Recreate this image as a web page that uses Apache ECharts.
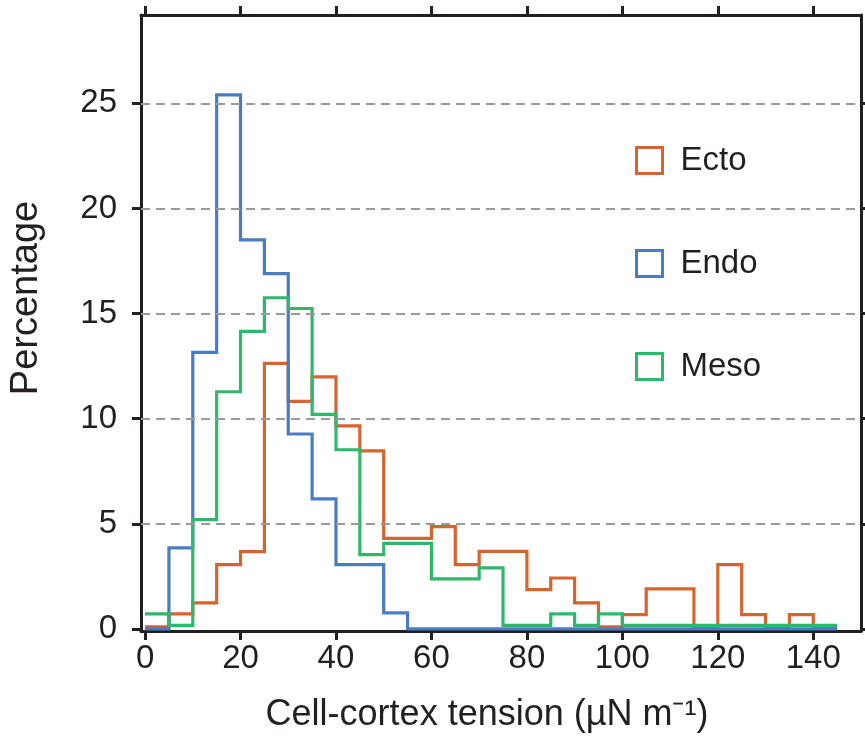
<!DOCTYPE html>
<html>
<head>
<meta charset="utf-8">
<script src="https://cdn.jsdelivr.net/npm/echarts@6/dist/echarts.min.js"></script>
<style>
  html, body { margin: 0; padding: 0; background: #fff; }
  #chart { width: 865px; height: 738px; }
</style>
</head>
<body>
<div id="chart"></div>
<script>
// Histogram bin edges (µN m⁻¹), 5-unit bins from 0 to 145
const binEdges = [0,5,10,15,20,25,30,35,40,45,50,55,60,65,70,75,80,85,90,95,100,105,110,115,120,125,130,135,140,145];

// Percentage of cells per bin
const ecto = [0.1,0.71,1.24,3.06,3.68,12.63,10.82,11.99,9.66,8.47,4.31,4.31,4.86,3.06,3.69,3.69,1.87,2.42,1.24,0.1,0.68,1.9,1.9,0.1,3.06,0.68,0.1,0.68,0.1];
const endo = [0,3.85,13.15,25.4,18.5,16.9,9.27,6.18,3.06,3.06,0.76,0,0,0,0,0,0,0,0,0,0,0,0,0,0,0,0,0,0];
const meso = [0.71,0.17,5.2,11.28,14.15,15.75,15.24,10.2,8.52,3.53,4.07,4.07,2.38,2.38,2.9,0.17,0.17,0.71,0.17,0.71,0.17,0.17,0.17,0.17,0.17,0.17,0.17,0.17,0.17];

const seriesNames = ['Ecto', 'Endo', 'Meso'];
const seriesColors = ['#d5642f', '#4a7cc4', '#2fb86b'];

// Tick values
const xTicks = [0,20,40,60,80,100,120,140];
const yTicks = [0,5,10,15,20,25];
const yGridValues = [5,10,15,20,25];

// Outline of a histogram: each bin's left edge with its value, closed by the last right edge
function stepPoints(values) {
  const pts = values.map((v, i) => [binEdges[i], v]);
  pts.push([binEdges[binEdges.length - 1], values[values.length - 1]]);
  return pts;
}

const ink = '#231f20';
const font = '"Liberation Sans", Arial, Helvetica, sans-serif';

const frameLine = { show: true, onZero: false, lineStyle: { color: ink, width: 3 } };

const chart = echarts.init(document.getElementById('chart'), null, { renderer: 'canvas' });

const option = {
  animation: false,
  backgroundColor: '#fff',
  grid: { left: 137.7, right: 4, top: 15, bottom: 106, containLabel: false },
  legend: {
    orient: 'vertical',
    left: 635,
    top: 144,
    padding: 0,
    itemWidth: 26,
    itemHeight: 26,
    itemGap: 70,
    icon: 'rect',
    selectedMode: false,
    textStyle: { fontFamily: font, fontSize: 33, color: ink, padding: [0, 0, 0, 13] },
    data: seriesNames.map((n, i) => ({
      name: n,
      itemStyle: { color: '#fff', borderColor: seriesColors[i], borderWidth: 3 }
    }))
  },
  xAxis: [
    {
      type: 'value', position: 'bottom', min: -0.85, max: 150,
      axisLine: frameLine,
      axisTick: { show: true, inside: false, length: 9, customValues: xTicks, lineStyle: { color: ink, width: 3 } },
      axisLabel: { customValues: xTicks, margin: 11, fontFamily: font, fontSize: 33, color: ink },
      splitLine: { show: false },
      name: 'Cell-cortex tension (µN m⁻¹)',
      nameLocation: 'middle',
      nameGap: 66,
      nameTextStyle: { fontFamily: font, fontSize: 36, color: ink, padding: [0, 28, 0, 0] }
    },
    {
      type: 'value', position: 'top', min: -0.85, max: 150,
      axisLine: frameLine,
      axisTick: { show: true, inside: false, length: 9, customValues: xTicks, lineStyle: { color: ink, width: 3 } },
      axisLabel: { show: false },
      splitLine: { show: false }
    }
  ],
  yAxis: [
    {
      type: 'value', position: 'left', min: -0.1, max: 29.2,
      axisLine: frameLine,
      axisTick: { show: true, inside: false, length: 9, customValues: yTicks, lineStyle: { color: ink, width: 3 } },
      axisLabel: { customValues: yTicks, margin: 24, fontFamily: font, fontSize: 33, color: ink },
      splitLine: { show: false },
      name: 'Percentage',
      nameLocation: 'middle',
      nameGap: 95,
      nameTextStyle: { fontFamily: font, fontSize: 38, color: ink, padding: [0, 0, 0, 50] }
    },
    {
      type: 'value', position: 'right', min: -0.1, max: 29.2,
      axisLine: frameLine,
      axisTick: { show: true, inside: false, length: 5, customValues: yTicks, lineStyle: { color: ink, width: 3 } },
      axisLabel: { show: false },
      splitLine: { show: false }
    }
  ],
  series: [
    {
      // horizontal reference lines at the labelled percentages
      type: 'line', xAxisIndex: 0, yAxisIndex: 0, data: [], silent: true, z: 1,
      markLine: {
        silent: true, symbol: 'none', label: { show: false },
        lineStyle: { color: '#9a9a9a', width: 2, type: [9, 6] },
        data: yGridValues.map(v => ({ yAxis: v }))
      }
    }
  ].concat([ecto, endo, meso].map((vals, i) => ({
    name: seriesNames[i],
    type: 'line',
    step: 'end',
    xAxisIndex: 0,
    yAxisIndex: 0,
    showSymbol: false,
    symbol: 'none',
    z: 2 + i,
    lineStyle: { color: seriesColors[i], width: 3.2, join: 'miter', cap: 'butt' },
    itemStyle: { color: seriesColors[i] },
    data: stepPoints(vals)
  })))
};

chart.setOption(option);
</script>
</body>
</html>
